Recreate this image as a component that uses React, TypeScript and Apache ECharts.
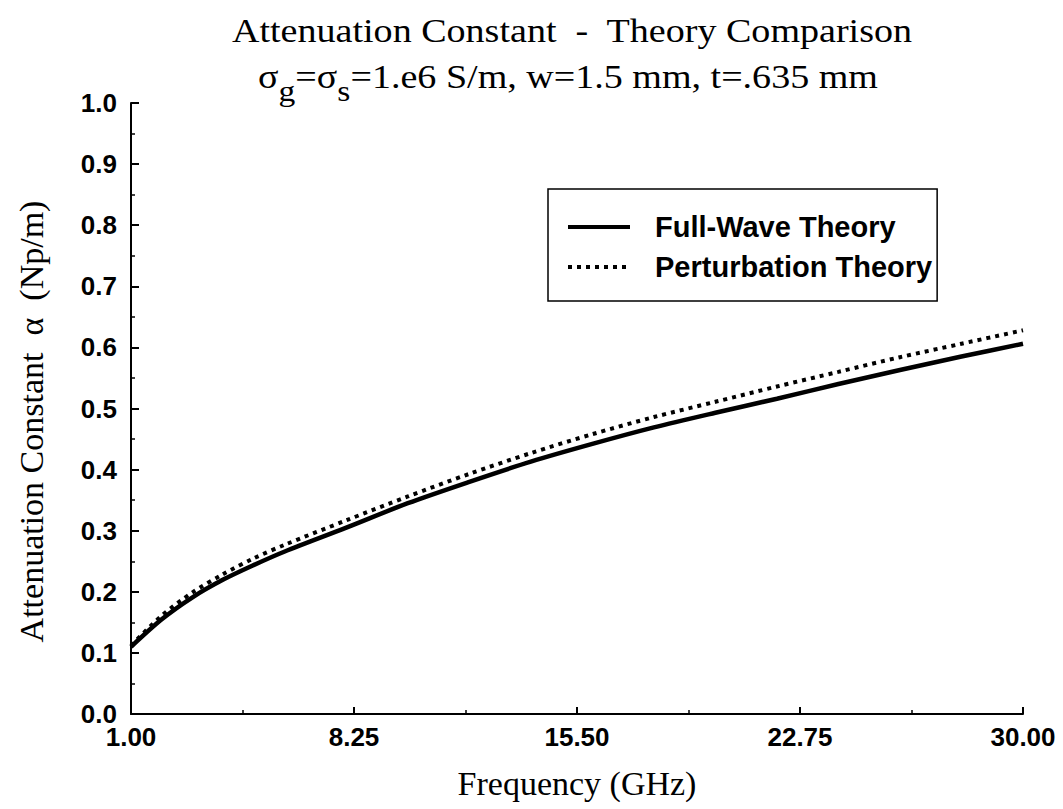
import React, { useEffect, useRef } from 'react';
import * as echarts from 'echarts';

const frequencies = [1, 2, 3, 4, 5, 6, 8, 10, 12, 14, 16, 18, 20, 22, 24, 26, 28, 30];
const fullWave = [0.110, 0.155, 0.191, 0.220, 0.244, 0.266, 0.305, 0.345, 0.380, 0.413, 0.442, 0.469, 0.493, 0.516, 0.540, 0.563, 0.585, 0.606];
const perturbation = [0.112, 0.161, 0.199, 0.229, 0.255, 0.277, 0.317, 0.356, 0.393, 0.427, 0.458, 0.486, 0.511, 0.536, 0.560, 0.584, 0.606, 0.628];
const seriesNames = ['Full-Wave Theory', 'Perturbation Theory'];
const titleText = 'Attenuation Constant  -  Theory Comparison';
const subtitleText = 'σ{sub|g}=σ{sub|s}=1.e6 S/m, w=1.5 mm, t=.635 mm';
const xName = 'Frequency (GHz)';
const yName = 'Attenuation Constant  α  (Np/m)';

const SERIF = '"Liberation Serif", "Times New Roman", serif';
const SANS = '"Liberation Sans", Arial, sans-serif';

export default function App() {
  const ref = useRef<HTMLDivElement>(null);
  useEffect(() => {
    const chart = echarts.init(ref.current!, null, { renderer: 'svg' });
    chart.setOption({
      animation: false,
      backgroundColor: '#fff',
      grid: { left: 131, right: 40, top: 103, bottom: 95, containLabel: false },
      graphic: [
        {
          type: 'text',
          x: 572,
          y: 31,
          scaleX: 1.12,
          style: { text: titleText, fontFamily: SERIF, fontSize: 34, fill: '#000', align: 'center', verticalAlign: 'middle' },
        },
        {
          type: 'text',
          x: 568,
          y: 77,
          scaleX: 1.12,
          style: {
            text: subtitleText,
            fontFamily: SERIF,
            fontSize: 34,
            fill: '#000',
            align: 'center',
            verticalAlign: 'middle',
            rich: {
              sub: { fontFamily: SERIF, fontSize: 30, fill: '#000', padding: [28, 0, 0, 0] },
            },
          },
        },
      ],
      legend: {
        orient: 'vertical',
        left: 548,
        top: 189,
        padding: [23, 5, 19, 18],
        itemWidth: 62,
        itemHeight: 14,
        itemGap: 10,
        borderColor: '#000',
        borderWidth: 1.5,
        data: seriesNames,
        lineStyle: { width: 4 },
        textStyle: { fontFamily: SANS, fontSize: 29, fontWeight: 'bold', color: '#000', lineHeight: 30, padding: [0, 0, 0, 20] },
      },
      xAxis: {
        type: 'value',
        min: 1,
        max: 30,
        interval: 7.25,
        name: xName,
        nameLocation: 'middle',
        nameGap: 52,
        nameTextStyle: { fontFamily: SERIF, fontSize: 34, color: '#000' },
        axisLine: { show: true, lineStyle: { color: '#000', width: 2 } },
        axisTick: { show: true, inside: true, length: 7, lineStyle: { color: '#000', width: 2 } },
        minorTick: { show: true, splitNumber: 2, length: 4, lineStyle: { color: '#000', width: 1.5 } },
        axisLabel: {
          formatter: (v: number) => v.toFixed(2),
          fontFamily: SANS,
          fontSize: 26,
          fontWeight: 'bold',
          color: '#000',
          margin: 10,
          showMinLabel: true,
          showMaxLabel: true,
        },
        splitLine: { show: false },
      },
      yAxis: {
        type: 'value',
        min: 0,
        max: 1,
        interval: 0.1,
        name: yName,
        nameLocation: 'middle',
        nameGap: 83,
        nameTextStyle: { fontFamily: SERIF, fontSize: 34, color: '#000', padding: [0, 26, 0, 0] },
        axisLine: { show: true, lineStyle: { color: '#000', width: 2 } },
        axisTick: { show: true, inside: true, length: 8, lineStyle: { color: '#000', width: 2 } },
        minorTick: { show: true, splitNumber: 2, length: 4, lineStyle: { color: '#000', width: 1.5 } },
        axisLabel: {
          formatter: (v: number) => v.toFixed(1),
          fontFamily: SANS,
          fontSize: 26,
          fontWeight: 'bold',
          color: '#000',
          margin: 14,
        },
        splitLine: { show: false },
      },
      series: [
        {
          name: seriesNames[0],
          type: 'line',
          data: frequencies.map((f, i) => [f, fullWave[i]]),
          symbol: 'none',
          smooth: 0.3,
          lineStyle: { color: '#000', width: 4.5 },
          itemStyle: { color: 'rgba(0,0,0,0)' },
        },
        {
          name: seriesNames[1],
          type: 'line',
          data: frequencies.map((f, i) => [f, perturbation[i]]),
          symbol: 'none',
          smooth: 0.3,
          lineStyle: { color: '#000', width: 4, type: [4, 5] },
          itemStyle: { color: 'rgba(0,0,0,0)' },
        },
      ],
    });
    return () => chart.dispose();
  }, []);
  return (
    <div
      ref={ref}
      style={{ position: 'absolute', left: 0, top: 0, width: 1063, height: 809, background: '#fff' }}
    />
  );
}
